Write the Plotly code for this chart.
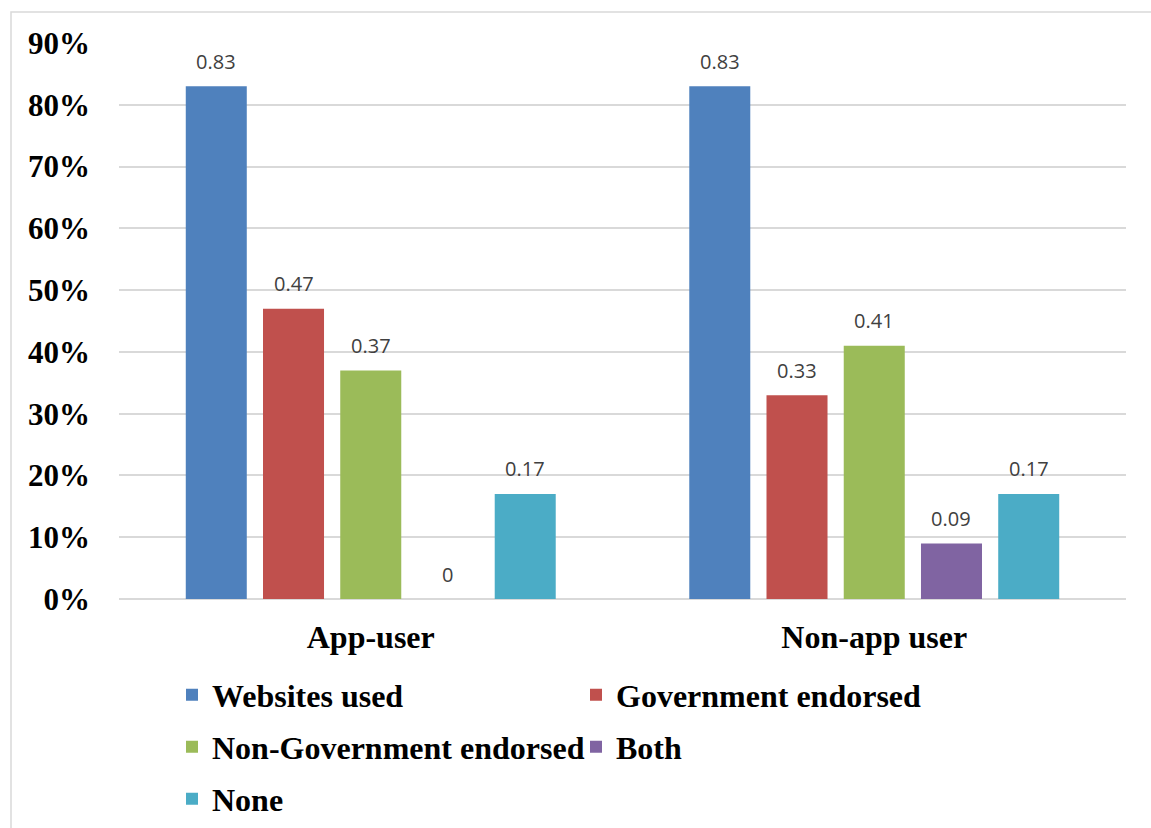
import plotly.graph_objects as go

groups = ["App-user", "Non-app user"]
series_names = ["Websites used", "Government endorsed", "Non-Government endorsed", "Both", "None"]
websites_used = [0.83, 0.83]
government_endorsed = [0.47, 0.33]
non_government_endorsed = [0.37, 0.41]
both = [0, 0.09]
none = [0.17, 0.17]
y_ticks = [0, 0.1, 0.2, 0.3, 0.4, 0.5, 0.6, 0.7, 0.8, 0.9]
y_tick_labels = ["0%", "10%", "20%", "30%", "40%", "50%", "60%", "70%", "80%", "90%"]

series_values = [websites_used, government_endorsed, non_government_endorsed, both, none]
colors = ["#4f81bd", "#c0504d", "#9bbb59", "#8064a2", "#4bacc6"]
legend_ids = ["legend", "legend", "legend2", "legend2", "legend3"]

W, H = 1151, 828
L, R, T, B = 119, 25, 43, 229
plot_w = W - L - R
plot_h = H - T - B
BARGAP, BARGROUPGAP = 0.233, 0.21


def px_x(px):
    return (px - L) / plot_w


def px_y(py):
    return (H - B - py) / plot_h


serif_bold = "Liberation Serif"
fig = go.Figure()
for name, vals, col, lg in zip(series_names, series_values, colors, legend_ids):
    fig.add_trace(go.Bar(
        x=groups, y=vals, name=name, marker=dict(color=col, line=dict(width=0)),
        legend=lg,
    ))

# value labels above each bar, offset horizontally to the bar's slot in its group
n_series = len(series_names)
cat_px = plot_w / len(groups)
slot_px = cat_px * (1 - BARGAP) / n_series
for i, vals in enumerate(series_values):
    shift = (i - (n_series - 1) / 2) * slot_px
    for g, v in zip(groups, vals):
        fig.add_annotation(
            x=g, y=v, xref="x", yref="y", text="%g" % v, showarrow=False,
            xshift=shift, yshift=25, yanchor="middle", xanchor="center",
            font=dict(family="Open Sans", size=20, color="#404040"),
        )

legend_common = dict(
    orientation="h", entrywidth=359, entrywidthmode="pixels",
    font=dict(family=serif_bold, size=32, color="#000000", weight="bold"),
    bgcolor="rgba(0,0,0,0)", xanchor="left", yanchor="middle",
    itemclick=False, tracegroupgap=0,
)
fig.update_layout(
    width=W, height=H,
    margin=dict(l=L, r=R, t=T, b=B, autoexpand=False),
    paper_bgcolor="white", plot_bgcolor="white",
    barmode="group", bargap=BARGAP, bargroupgap=BARGROUPGAP,
    xaxis=dict(
        tickfont=dict(family=serif_bold, size=32, color="#000000", weight="bold"),
        showgrid=False, showline=False, ticks="", ticklen=0, ticklabelstandoff=16,
    ),
    yaxis=dict(
        range=[0, 0.9], tickvals=y_ticks, ticktext=y_tick_labels,
        tickfont=dict(family=serif_bold, size=31, color="#000000", weight="bold"),
        showgrid=True, gridcolor="#d9d9d9", gridwidth=1.5,
        zeroline=True, zerolinecolor="#d9d9d9", zerolinewidth=1.5,
        showline=False, ticks="", ticklabelstandoff=28,
    ),
    legend=dict(legend_common, x=px_x(172), y=px_y(695)),
    legend2=dict(legend_common, x=px_x(172), y=px_y(747)),
    legend3=dict(legend_common, x=px_x(172), y=px_y(799)),
    showlegend=True,
)

# outer chart frame
fig.add_shape(type="rect", xref="paper", yref="paper",
              x0=px_x(11), x1=px_x(1160), y0=px_y(840), y1=px_y(12),
              line=dict(color="#d9d9d9", width=1.5), fillcolor="rgba(0,0,0,0)", layer="below")

fig.write_html("out.html")
